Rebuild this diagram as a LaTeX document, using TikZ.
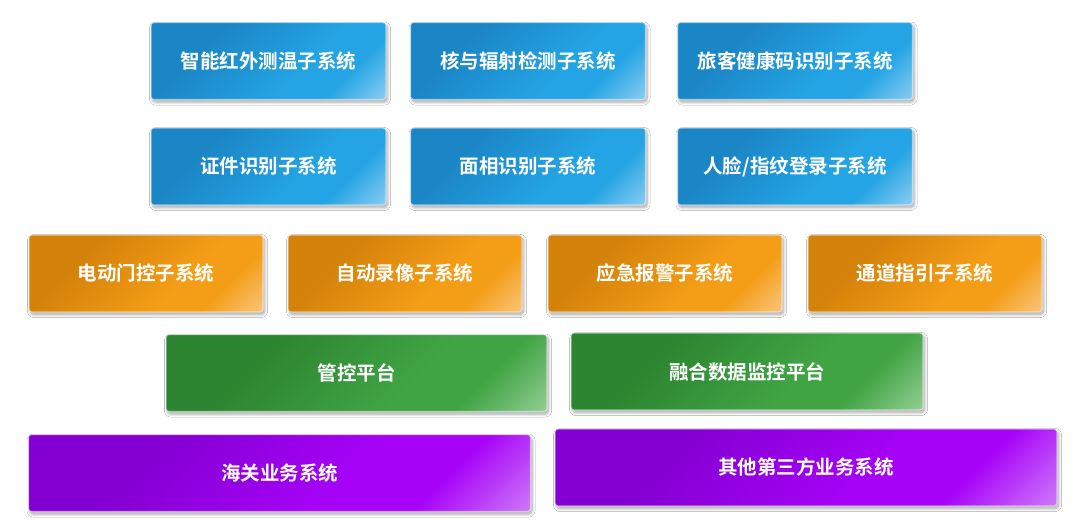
\documentclass[tikz,border=0pt]{standalone}
\usepackage{fontspec}
\newfontfamily\cjkb{Noto Sans CJK SC Bold}
\usetikzlibrary{shadows.blur}
\definecolor{bA}{HTML}{1B86C6}\definecolor{bB}{HTML}{24A4E4}\definecolor{bC}{HTML}{C4E6FC}
\definecolor{oA}{HTML}{D4820A}\definecolor{oB}{HTML}{F49D16}\definecolor{oC}{HTML}{FFDCB4}
\definecolor{gA}{HTML}{2C8530}\definecolor{gB}{HTML}{40A444}\definecolor{gC}{HTML}{C4E6C2}
\definecolor{pA}{HTML}{8400D2}\definecolor{pB}{HTML}{A702F8}\definecolor{pC}{HTML}{E6C0FC}
\definecolor{shadowc}{HTML}{9FB4CC}
\pgfdeclarehorizontalshading{blueshade}{100bp}{color(0bp)=(bA); color(32bp)=(bA); color(60bp)=(bB); color(71bp)=(bB); color(94bp)=(bC); color(100bp)=(bC)}
\pgfdeclarehorizontalshading{orangeshade}{100bp}{color(0bp)=(oA); color(32bp)=(oA); color(60bp)=(oB); color(71bp)=(oB); color(94bp)=(oC); color(100bp)=(oC)}
\pgfdeclarehorizontalshading{greenshade}{100bp}{color(0bp)=(gA); color(32bp)=(gA); color(60bp)=(gB); color(71bp)=(gB); color(94bp)=(gC); color(100bp)=(gC)}
\pgfdeclarehorizontalshading{purpleshade}{100bp}{color(0bp)=(pA); color(32bp)=(pA); color(60bp)=(pB); color(71bp)=(pB); color(94bp)=(pC); color(100bp)=(pC)}
\tikzset{
  sysbox/.style={rectangle, rounded corners=3pt, draw=white, draw opacity=0.5, line width=1.2pt,
    blur shadow={shadow xshift=1.5pt, shadow yshift=-2.5pt, shadow opacity=35, shadow blur radius=3pt, shadow blur steps=8, fill=shadowc},
    shading angle=-45, text=white, font=\cjkb\fontsize{19.5}{22}\selectfont, inner sep=0pt},
  bluebox/.style={sysbox, shading=blueshade, minimum width=235pt, minimum height=77pt},
  orangebox/.style={sysbox, shading=orangeshade, minimum width=234pt, minimum height=77pt},
  greenbox/.style={sysbox, shading=greenshade, minimum height=77pt},
  purplebox/.style={sysbox, shading=purpleshade, minimum width=502pt, minimum height=77pt},
}
\begin{document}
\begin{tikzpicture}[x=1pt,y=-1pt]
\useasboundingbox[fill=white] (0,0) rectangle (1084,527);
% row 1
\node[bluebox] (b1) at (268.5,61) {智能红外测温子系统};
\node[bluebox] (b2) at (528,61) {核与辐射检测子系统};
\node[bluebox] (b3) at (795,61) {旅客健康码识别子系统};
% row 2
\node[bluebox] (b4) at (268.5,166.5) {证件识别子系统};
\node[bluebox] (b5) at (528,166.5) {面相识别子系统};
\node[bluebox] (b6) at (795,166.5) {人脸/指纹登录子系统};
% row 3
\node[orangebox] (o1) at (146,273.5) {电动门控子系统};
\node[orangebox] (o2) at (405,273.5) {自动录像子系统};
\node[orangebox] (o3) at (665,273.5) {应急报警子系统};
\node[orangebox] (o4) at (925,273.5) {通道指引子系统};
% row 4
\node[greenbox, minimum width=381pt] (g1) at (356.5,373) {管控平台};
\node[greenbox, minimum width=352pt] (g2) at (747,371.5) {融合数据监控平台};
% row 5
\node[purplebox] (p1) at (279.5,473) {海关业务系统};
\node[purplebox] (p2) at (806,467.5) {其他第三方业务系统};
\end{tikzpicture}
\end{document}
